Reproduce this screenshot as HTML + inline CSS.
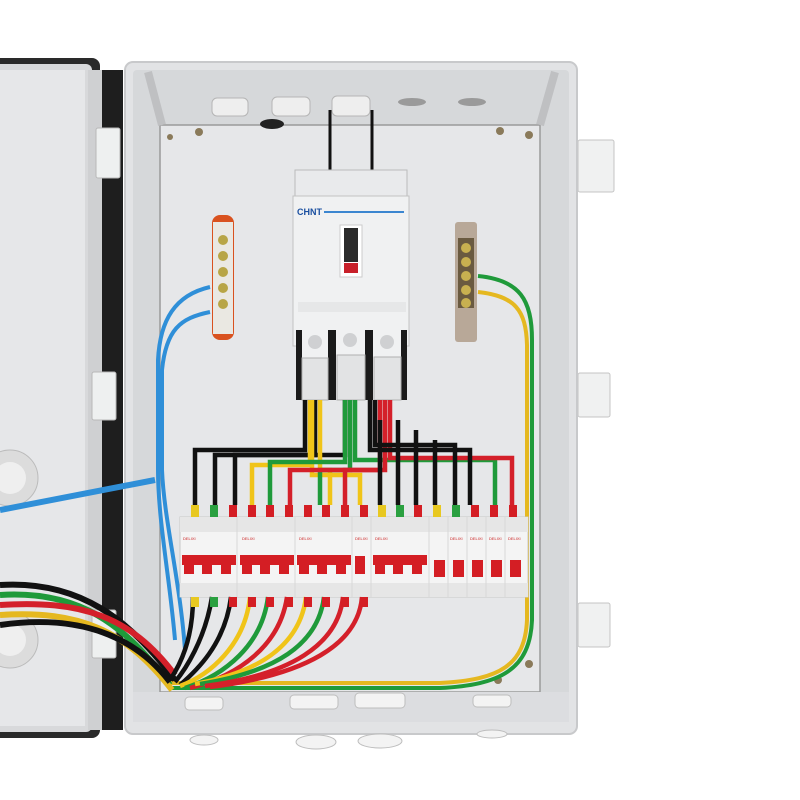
<!DOCTYPE html>
<html><head><meta charset="utf-8"><style>html,body{margin:0;padding:0;background:#fff;}svg{display:block}</style></head>
<body>
<svg width="800" height="800" viewBox="0 0 800 800" xmlns="http://www.w3.org/2000/svg" font-family="Liberation Sans, sans-serif">
<rect width="800" height="800" fill="#fff"/>
<!-- door -->
<rect x="-10" y="58" width="110" height="680" rx="8" fill="#2a2a2a"/>
<rect x="-10" y="64" width="102" height="668" rx="6" fill="#d8d9db"/>
<rect x="-10" y="70" width="95" height="656" fill="#e6e7e9"/>
<rect x="95" y="70" width="28" height="660" fill="#1e1e1e"/>
<rect x="88" y="70" width="14" height="660" fill="#cfd0d2"/>
<rect x="96" y="128" width="24" height="50" rx="2" fill="#eef0f0" stroke="#b8b8b8"/>
<rect x="92" y="372" width="24" height="48" rx="2" fill="#eef0f0" stroke="#b8b8b8"/>
<rect x="92" y="610" width="24" height="48" rx="2" fill="#eef0f0" stroke="#b8b8b8"/>
<circle cx="10" cy="478" r="28" fill="#dcdcdc" stroke="#bbb"/><circle cx="10" cy="478" r="16" fill="#efefef"/>
<circle cx="10" cy="640" r="28" fill="#dcdcdc" stroke="#bbb"/><circle cx="10" cy="640" r="16" fill="#efefef"/>
<rect x="578" y="140" width="36" height="52" rx="2" fill="#f0f1f1" stroke="#c4c4c4"/>
<rect x="578" y="373" width="32" height="44" rx="2" fill="#f0f1f1" stroke="#c4c4c4"/>
<rect x="578" y="603" width="32" height="44" rx="2" fill="#f0f1f1" stroke="#c4c4c4"/>
<!-- box -->
<rect x="125" y="62" width="452" height="672" rx="8" fill="#e2e3e5" stroke="#c8c9cb" stroke-width="2"/>
<rect x="133" y="70" width="436" height="650" rx="4" fill="#d6d8da"/>
<rect x="160" y="125" width="380" height="567" fill="#e6e7e9" stroke="#9a9a9a" stroke-width="1.5"/>
<rect x="133" y="692" width="436" height="30" fill="#dcdde0"/>
<g fill="#f3f3f3" stroke="#bdbdbd">
<rect x="185" y="697" width="38" height="13" rx="4"/><rect x="290" y="695" width="48" height="14" rx="4"/><rect x="355" y="693" width="50" height="15" rx="4"/><rect x="473" y="695" width="38" height="12" rx="4"/>
<ellipse cx="204" cy="740" rx="14" ry="5"/><ellipse cx="316" cy="742" rx="20" ry="7"/><ellipse cx="380" cy="741" rx="22" ry="7"/><ellipse cx="492" cy="734" rx="15" ry="4"/>
</g>
<g fill="#eeeeee" stroke="#b5b5b5">
<rect x="212" y="98" width="36" height="18" rx="5"/><rect x="272" y="97" width="38" height="19" rx="5"/><rect x="332" y="96" width="38" height="20" rx="5"/>
</g>
<ellipse cx="412" cy="102" rx="14" ry="4" fill="#9a9a9a"/><ellipse cx="472" cy="102" rx="14" ry="4" fill="#9a9a9a"/>
<ellipse cx="272" cy="124" rx="12" ry="5" fill="#222"/>
<line x1="148" y1="72" x2="162" y2="125" stroke="#bfc0c2" stroke-width="8"/>
<line x1="555" y1="72" x2="540" y2="125" stroke="#bfc0c2" stroke-width="8"/>
<g fill="#8a7a5a"><circle cx="199" cy="132" r="4"/><circle cx="500" cy="131" r="4"/><circle cx="529" cy="135" r="4"/><circle cx="170" cy="137" r="3"/><circle cx="529" cy="664" r="4"/><circle cx="498" cy="680" r="4"/></g>
<path d="M330 110 V180 M372 110 V180" stroke="#111" stroke-width="3" fill="none"/>
<!-- main breaker -->
<rect x="295" y="170" width="112" height="28" fill="#e9eaec" stroke="#bbb"/>
<rect x="293" y="196" width="116" height="150" fill="#f0f1f2" stroke="#c2c2c2"/>
<text x="297" y="215" font-size="9" font-weight="bold" fill="#1a4fa0">CHNT</text>
<rect x="324" y="211" width="80" height="2" fill="#3b86d0"/>
<rect x="340" y="225" width="22" height="52" fill="#fff" stroke="#ccc"/>
<rect x="344" y="228" width="14" height="34" fill="#2a2a2a"/>
<rect x="344" y="263" width="14" height="10" fill="#c8202a"/>
<rect x="298" y="302" width="108" height="10" fill="#e6e7e8"/>
<rect x="296" y="320" width="110" height="80" fill="#f0f1f2"/>
<g fill="#1a1a1a"><rect x="296" y="330" width="6" height="70"/><rect x="328" y="330" width="8" height="70"/><rect x="365" y="330" width="8" height="70"/><rect x="401" y="330" width="6" height="70"/></g>
<g fill="#e2e3e4" stroke="#b0b0b0"><rect x="302" y="358" width="26" height="42"/><rect x="337" y="355" width="28" height="45"/><rect x="374" y="357" width="27" height="43"/></g>
<g fill="#cfd0d2"><circle cx="315" cy="342" r="7"/><circle cx="350" cy="340" r="7"/><circle cx="387" cy="342" r="7"/></g>
<!-- busbars -->
<rect x="212" y="215" width="22" height="125" rx="8" fill="#d9521f"/>
<rect x="213" y="222" width="20" height="112" fill="#eae8e2"/>
<g fill="#b8a545"><circle cx="223" cy="240" r="5"/><circle cx="223" cy="256" r="5"/><circle cx="223" cy="272" r="5"/><circle cx="223" cy="288" r="5"/><circle cx="223" cy="304" r="5"/></g>
<rect x="455" y="222" width="22" height="120" rx="3" fill="#b8a898"/>
<rect x="458" y="238" width="16" height="70" fill="#6a5a40"/>
<g fill="#c8b050"><circle cx="466" cy="248" r="5"/><circle cx="466" cy="262" r="5"/><circle cx="466" cy="276" r="5"/><circle cx="466" cy="290" r="5"/><circle cx="466" cy="303" r="5"/></g>
<g fill="none" stroke="#2f8fd8" stroke-width="4">
<path d="M210 287 C175 295 160 320 158 360 V470 C158 520 170 580 175 640"/>
<path d="M210 312 C180 318 166 330 162 370 V470 C164 520 180 580 185 650"/>
<path d="M155 480 L0 510" stroke-width="6"/>
</g>
<g fill="none" stroke-width="4">
<path d="M478 276 C520 280 532 300 532 340 V620 C530 670 500 685 440 688 H170" stroke="#1f9a3a"/>
<path d="M478 292 C515 296 526 310 527 345 V620 C525 665 500 680 440 683 H170" stroke="#e5b820"/>
</g>
<g fill="none" stroke-width="6">
<path d="M175 680 C130 620 80 580 0 585" stroke="#111"/>
<path d="M170 685 C125 625 80 590 0 595" stroke="#1f9a3a"/>
<path d="M175 675 C130 615 80 600 0 605" stroke="#d4202a"/>
<path d="M172 690 C125 630 80 610 0 615" stroke="#e5b820"/>
<path d="M170 682 C130 630 70 615 0 625" stroke="#111"/>
</g>
<g fill="none" stroke-width="4.5">
<path d="M305 400 V450 H195 V505" stroke="#111"/>
<path d="M315 400 V455 H215 V505" stroke="#111"/>
<path d="M345 400 V455 H235 V505" stroke="#111"/>
<path d="M310 400 V465 H252 V505" stroke="#f0c419"/>
<path d="M320 400 V470 H330 V505" stroke="#f0c419"/>
<path d="M312 400 V475 H360 V505" stroke="#f0c419"/>
<path d="M345 400 V462 H270 V505" stroke="#1f9a3a"/>
<path d="M350 400 V470 H320 V505" stroke="#1f9a3a"/>
<path d="M355 400 V460 H495 V505" stroke="#1f9a3a"/>
<path d="M380 400 V470 H290 V505" stroke="#d4202a"/>
<path d="M385 400 V470 H345 V505" stroke="#d4202a"/>
<path d="M390 400 V458 H512 V505" stroke="#d4202a"/>
<path d="M370 400 V450 H470 V505" stroke="#111"/>
<path d="M375 400 V445 H455 V505" stroke="#111"/>
<path d="M380 420 V505" stroke="#111"/>
<path d="M398 420 V505" stroke="#111"/>
<path d="M416 430 V505" stroke="#111"/>
<path d="M435 440 V505" stroke="#111"/>
</g>
<g>
<rect x="180" y="517" width="348" height="80" fill="#f4f4f4" stroke="#c8c8c8"/>
<rect x="180" y="517" width="348" height="15" fill="#e6e6e6"/>
<rect x="180" y="583" width="348" height="14" fill="#e6e6e6"/>
<g fill="#d41e24">
<rect x="182" y="555" width="54" height="10"/><rect x="184" y="562" width="10" height="12"/><rect x="202" y="562" width="10" height="12"/><rect x="221" y="562" width="10" height="12"/>
<rect x="240" y="555" width="54" height="10"/><rect x="242" y="562" width="10" height="12"/><rect x="260" y="562" width="10" height="12"/><rect x="279" y="562" width="10" height="12"/>
<rect x="297" y="555" width="54" height="10"/><rect x="299" y="562" width="10" height="12"/><rect x="317" y="562" width="10" height="12"/><rect x="336" y="562" width="10" height="12"/>
<rect x="355" y="556" width="10" height="18"/>
<rect x="373" y="555" width="54" height="10"/><rect x="375" y="562" width="10" height="12"/><rect x="393" y="562" width="10" height="12"/><rect x="412" y="562" width="10" height="12"/>
<rect x="434" y="560" width="11" height="17"/><rect x="453" y="560" width="11" height="17"/><rect x="472" y="560" width="11" height="17"/><rect x="491" y="560" width="11" height="17"/><rect x="510" y="560" width="11" height="17"/>
</g>
<g stroke="#d8d8d8"><line x1="237" y1="517" x2="237" y2="597"/><line x1="295" y1="517" x2="295" y2="597"/><line x1="352" y1="517" x2="352" y2="597"/><line x1="371" y1="517" x2="371" y2="597"/><line x1="429" y1="517" x2="429" y2="597"/><line x1="448" y1="517" x2="448" y2="597"/><line x1="467" y1="517" x2="467" y2="597"/><line x1="486" y1="517" x2="486" y2="597"/><line x1="505" y1="517" x2="505" y2="597"/></g>
<g font-size="4" fill="#c22">
<text x="183" y="540">DELIXI</text><text x="242" y="540">DELIXI</text><text x="299" y="540">DELIXI</text><text x="355" y="540">DELIXI</text><text x="375" y="540">DELIXI</text><text x="450" y="540">DELIXI</text><text x="470" y="540">DELIXI</text><text x="489" y="540">DELIXI</text><text x="508" y="540">DELIXI</text>
</g>
<g><rect x="191" y="505" width="8" height="12" fill="#e8c820"/><rect x="210" y="505" width="8" height="12" fill="#2aa040"/><rect x="229" y="505" width="8" height="12" fill="#d41e24"/>
<rect x="248" y="505" width="8" height="12" fill="#d41e24"/><rect x="266" y="505" width="8" height="12" fill="#d41e24"/><rect x="285" y="505" width="8" height="12" fill="#d41e24"/>
<rect x="304" y="505" width="8" height="12" fill="#d41e24"/><rect x="322" y="505" width="8" height="12" fill="#d41e24"/><rect x="341" y="505" width="8" height="12" fill="#d41e24"/><rect x="360" y="505" width="8" height="12" fill="#d41e24"/>
<rect x="378" y="505" width="8" height="12" fill="#e8c820"/><rect x="396" y="505" width="8" height="12" fill="#2aa040"/><rect x="414" y="505" width="8" height="12" fill="#d41e24"/><rect x="433" y="505" width="8" height="12" fill="#e8c820"/>
<rect x="452" y="505" width="8" height="12" fill="#2aa040"/><rect x="471" y="505" width="8" height="12" fill="#d41e24"/><rect x="490" y="505" width="8" height="12" fill="#d41e24"/><rect x="509" y="505" width="8" height="12" fill="#d41e24"/></g>
</g>
<g fill="none" stroke-width="4.5">
<path d="M193 597 C193 640 180 665 170 680" stroke="#111"/>
<path d="M212 597 C205 640 185 670 175 682" stroke="#111"/>
<path d="M231 597 C225 645 195 672 180 685" stroke="#111"/>
<path d="M250 597 C245 645 210 675 180 686" stroke="#f0c419"/>
<path d="M268 597 C262 645 225 675 185 688" stroke="#1f9a3a"/>
<path d="M287 597 C280 645 240 675 190 688" stroke="#d4202a"/>
<path d="M306 597 C300 645 260 672 195 684" stroke="#f0c419"/>
<path d="M324 597 C318 645 275 672 200 684" stroke="#1f9a3a"/>
<path d="M343 597 C338 645 290 675 205 686" stroke="#d4202a"/>
<path d="M362 597 C358 645 305 675 210 687" stroke="#d4202a"/>
</g>
<g fill="#d41e24"><rect x="191" y="597" width="8" height="10" fill="#e8c820"/><rect x="210" y="597" width="8" height="10" fill="#2aa040"/><rect x="229" y="597" width="8" height="10"/><rect x="248" y="597" width="8" height="10"/><rect x="266" y="597" width="8" height="10"/><rect x="285" y="597" width="8" height="10"/><rect x="304" y="597" width="8" height="10"/><rect x="322" y="597" width="8" height="10"/><rect x="341" y="597" width="8" height="10"/><rect x="360" y="597" width="8" height="10"/></g>
</svg>
</body></html>
